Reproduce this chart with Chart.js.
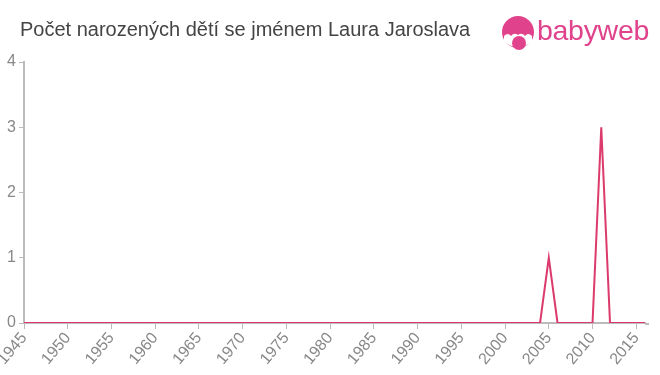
<!DOCTYPE html>
<html>
<head>
<meta charset="utf-8">
<script src="https://cdn.jsdelivr.net/npm/chart.js@4/dist/chart.umd.min.js"></script>
<style>
  html, body { margin: 0; padding: 0; background: #fff; }
  #wrap { position: relative; width: 660px; height: 375px; overflow: hidden; }
  #title {
    position: absolute; left: 20px; top: 18px;
    font: 20px "Liberation Sans", Arial, sans-serif; color: #444;
    white-space: nowrap;
  }
  #logo { position: absolute; left: 500px; top: 12px; }
  #brand {
    position: absolute; left: 537px; top: 14px;
    font: 28.5px "Liberation Sans", Arial, sans-serif; color: #e0438b;
    letter-spacing: -0.3px;
  }
  canvas { position: absolute; left: 0; top: 0; }
</style>
</head>
<body>
<div id="wrap">
  <canvas id="myChart" width="660" height="375"></canvas>
  <div id="title">Počet narozených dětí se jménem Laura Jaroslava</div>
  <svg id="logo" width="38" height="40" viewBox="0 0 38 40">
    <circle cx="18" cy="20" r="16" fill="#e0438b"/>
    <path d="M4 24 Q8 20 11 24 Q14 20 18 23 Q22 20 25 24 Q28 20 32 24 L32 30 Q18 40 4 30 Z" fill="#fff"/>
    <circle cx="19" cy="31" r="7" fill="#e0438b"/>
  </svg>
  <div id="brand">babyweb</div>
</div>
<script>
const years = [
  1945, 1946, 1947, 1948, 1949, 1950, 1951, 1952, 1953, 1954,
  1955, 1956, 1957, 1958, 1959, 1960, 1961, 1962, 1963, 1964,
  1965, 1966, 1967, 1968, 1969, 1970, 1971, 1972, 1973, 1974,
  1975, 1976, 1977, 1978, 1979, 1980, 1981, 1982, 1983, 1984,
  1985, 1986, 1987, 1988, 1989, 1990, 1991, 1992, 1993, 1994,
  1995, 1996, 1997, 1998, 1999, 2000, 2001, 2002, 2003, 2004,
  2005, 2006, 2007, 2008, 2009, 2010, 2011, 2012, 2013, 2014,
  2015, 2016
];
const births = [
  0, 0, 0, 0, 0, 0, 0, 0, 0, 0,
  0, 0, 0, 0, 0, 0, 0, 0, 0, 0,
  0, 0, 0, 0, 0, 0, 0, 0, 0, 0,
  0, 0, 0, 0, 0, 0, 0, 0, 0, 0,
  0, 0, 0, 0, 0, 0, 0, 0, 0, 0,
  0, 0, 0, 0, 0, 0, 0, 0, 0, 0,
  1, 0, 0, 0, 0, 0, 3, 0, 0, 0,
  0, 0
];
const yTicks = [0, 1, 2, 3, 4];

const tickFont = { family: "'Liberation Sans', Arial, sans-serif", size: 16 };

// axis line runs a few px past the last point, like the original
const axisRunout = {
  id: "axisRunout",
  afterDraw(chart) {
    const { ctx, chartArea } = chart;
    ctx.save();
    ctx.strokeStyle = "#bbb";
    ctx.lineWidth = 2;
    ctx.beginPath();
    ctx.moveTo(chartArea.right, chartArea.bottom + 1);
    ctx.lineTo(chartArea.right + 4, chartArea.bottom + 1);
    ctx.stroke();
    ctx.restore();
  }
};

const config = {
  type: "line",
  data: {
    labels: years,
    datasets: [
      {
        data: births,
        borderColor: "#dc3a6c",
        borderWidth: 2,
        radius: 0,
        tension: 0,
      }
    ]
  },
  options: {
    animation: false,
    responsive: false,
    layout: { padding: { top: 62, right: 15, left: 0, bottom: 0 } },
    plugins: { legend: false, title: false, tooltip: false },
    scales: {
      x: {
        offset: false,
        grid: { display: true, drawOnChartArea: false, drawTicks: true, tickLength: 6, color: "#bbb" },
        border: { color: "#bbb", width: 2 },
        ticks: {
          autoSkip: false,
          maxRotation: 50,
          minRotation: 50,
          color: "#888",
          font: tickFont,
          padding: 0,
          callback: function (value, index) {
            const y = years[index];
            return y % 5 === 0 ? String(y) : null;
          }
        },
        afterFit: function (scale) {
          scale.paddingLeft = 0;
          scale.paddingRight = 0;
          scale.height = 52;
        }
      },
      y: {
        min: 0,
        max: 4,
        grid: { display: true, drawOnChartArea: false, drawTicks: true, tickLength: 5, color: "#bbb" },
        border: { color: "#bbb", width: 2 },
        afterBuildTicks: function (scale) {
          scale.ticks = yTicks.map(v => ({ value: v }));
        },
        ticks: {
          color: "#888",
          font: tickFont,
          padding: 3,
        },
        afterFit: function (scale) {
          scale.width = 24;
        }
      }
    }
  },
  plugins: [axisRunout]
};

new Chart(document.getElementById("myChart"), config);
</script>
</body>
</html>
